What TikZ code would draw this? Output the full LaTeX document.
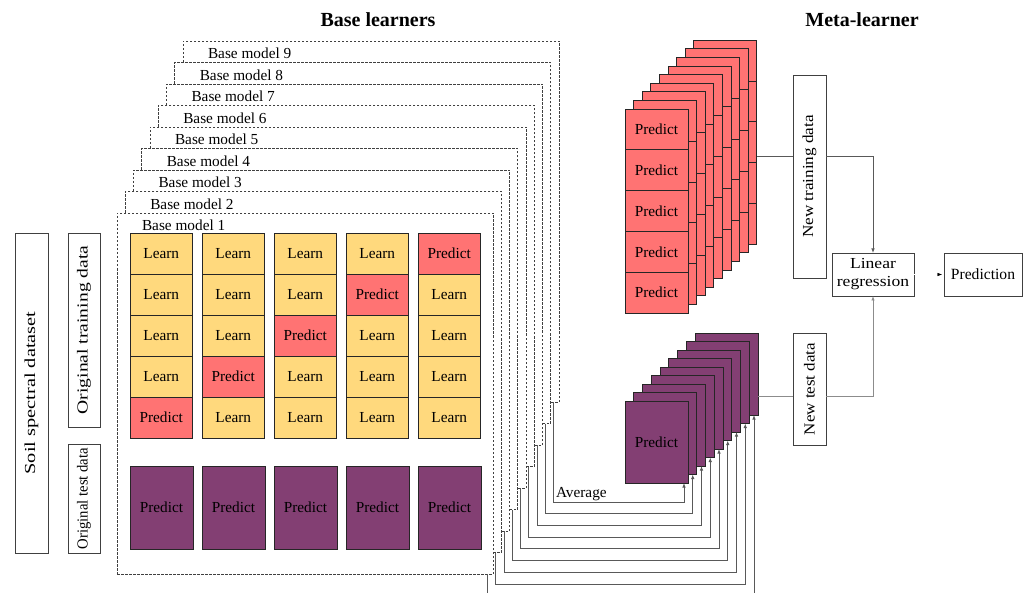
\documentclass[tikz,border=0pt]{standalone}
\usepackage{fontspec}
\setmainfont{Liberation Serif}
\usetikzlibrary{arrows.meta,calc}
\definecolor{yel}{RGB}{255,217,125}
\definecolor{rd}{RGB}{255,115,115}
\definecolor{pur}{RGB}{131,63,115}
\begin{document}
\begin{tikzpicture}[x=1pt,y=-1pt, font=\fontsize{15.3}{18}\selectfont,
 every node/.style={inner sep=0pt, outer sep=0pt},
 dbox/.style={draw=black!75, dash pattern=on 2.5pt off 1.5pt, line width=0.7pt, fill=white, minimum width=376pt, minimum height=361pt, anchor=north west},
 cellbox/.style={draw=black!85, line width=0.7pt, minimum width=62.5pt, minimum height=41pt, anchor=north west},
 learn/.style={cellbox, fill=yel},
 predc/.style={cellbox, fill=rd},
 purbox/.style={draw=black!85, line width=0.7pt, fill=pur, minimum width=63pt, minimum height=83pt, anchor=north west},
 wbox/.style={draw=black!75, line width=0.7pt, fill=white},
 conn/.style={draw=black!65, line width=0.8pt},
 arr/.style={conn, -{Latex[length=4.5pt,width=3.5pt]}},
 title/.style={font=\fontsize{20}{24}\selectfont\bfseries}]

\useasboundingbox (0,0) rectangle (1027,593);

% titles
\node[title] (t1) at (378,20) {Base learners};
\node[title] (t2) at (862,20) {Meta-learner};

% stacked base model frames
\foreach \k in {9,8,...,1} {
  \pgfmathsetmacro\bx{117+8.25*(\k-1)}
  \pgfmathsetmacro\by{213-21.5*(\k-1)}
  \node[dbox] (bm\k) at (\bx,\by) {};
  \node[anchor=west] (bl\k) at (\bx+25,\by+12.5) {Base model \k};
}

% left data boxes
\node[wbox, minimum width=33pt, minimum height=320pt] (soil) at (31.5,393) {};
\node[rotate=90, xscale=1.33] (soilt) at (soil.center) {Soil spectral dataset};
\node[wbox, minimum width=32pt, minimum height=194pt] (otr) at (84,330) {};
\node[rotate=90, xscale=1.28] (otrt) at (otr.center) {Original training data};
\node[wbox, minimum width=32pt, minimum height=109pt] (ote) at (84,498.5) {};
\node[rotate=90, xscale=0.96] (otet) at (ote.center) {Original test data};

% cross-validation grid
\foreach \c in {0,...,4} {
  \foreach \r in {0,...,4} {
    \pgfmathtruncatemacro\isp{(\r==4-\c)?1:0}
    \ifnum\isp=1
      \node[predc] (g\c\r) at (130+72*\c, 233+41*\r) {Predict};
    \else
      \node[learn] (g\c\r) at (130+72*\c, 233+41*\r) {Learn};
    \fi
  }
  \node[purbox] (bp\c) at (130+72*\c, 466) {Predict};
}

% red stack (new training data)
\foreach \j in {8,7,...,0} {
  \foreach \i in {0,...,4} {
    \node[predc, minimum width=63pt, minimum height=40.8pt] (r\j-\i) at (625+8.6*\j, 109-8.6*\j+40.8*\i) {\ifnum\j=0 Predict\fi};
  }
}

% purple stack (new test data)
\foreach \j in {8,7,...,0} {
  \node[purbox, minimum height=82pt] (p\j) at (625+8.75*\j, 401-8.5*\j) {\ifnum\j=0 Predict\fi};
}

% meta learner boxes
\node[wbox, minimum width=33pt, minimum height=203pt] (ntr) at (809.5,176.5) {};
\node[rotate=90, xscale=1.12] (ntrt) at (ntr.center) {New training data};
\node[wbox, minimum width=33pt, minimum height=112pt] (nte) at (809.5,389) {};
\node[rotate=90, xscale=1.11] (ntet) at (nte.center) {New test data};
\node[wbox, minimum width=82pt, minimum height=43pt] (lr) at (873,274.5) {};
\node[xscale=1.15, align=center, font=\fontsize{15.3}{18}\selectfont] (lrt) at (lr.center) {Linear\\regression};
\node[wbox, minimum width=78pt, minimum height=43pt, font=\fontsize{15.6}{18}\selectfont] (pr) at (983,274.5) {Prediction};

% meta connectors
\draw[conn] (r8-2.east |- 0,156) -- (ntr.west |- 0,156);
\draw[arr] (ntr.east |- 0,156) -| (lr.north);
\draw[conn, draw=black!45] (p8.east |- 0,396) -- (nte.west |- 0,396);
\draw[arr, draw=black!45] (nte.east |- 0,396) -| (lr.south);
\draw[draw=white, shorten >=2pt, -{Latex[length=4.5pt,width=3.5pt,black]}] (lr.east) -- (pr.west);

% base model outputs to averaged test predictions
\foreach \k in {1,...,9} {
  \pgfmathtruncatemacro\j{9-\k}
  \pgfmathsetmacro\yh{502+(9-\k)*11.7}
  \coordinate (ba\k) at ([xshift=-5.5pt]bm\k.south east);
  \coordinate (pa\j) at ([xshift=-4pt]p\j.south east);
  \draw[arr] (ba\k) |- (pa\j |- 0,\yh) -- (pa\j);
}
\node[anchor=base west] (avg) at (556,497) {Average};

\end{tikzpicture}
\end{document}
